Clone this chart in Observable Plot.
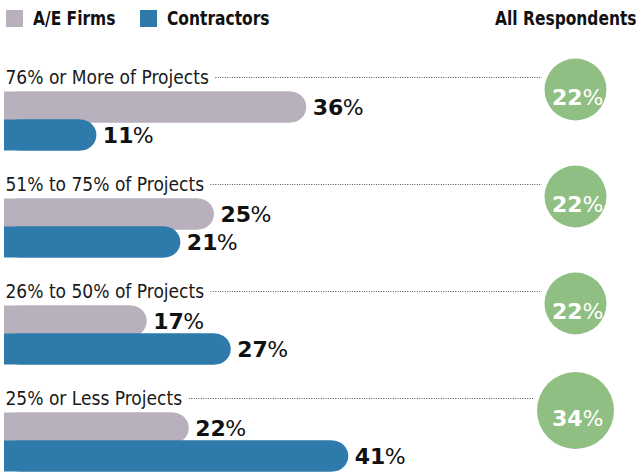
<!DOCTYPE html>
<html><head><meta charset="utf-8">
<script src="https://cdn.jsdelivr.net/npm/d3@7"></script>
<script src="https://cdn.jsdelivr.net/npm/@observablehq/plot@0.6"></script>
<style>
body{margin:0;background:#fff;width:642px;height:472px;overflow:hidden;font-family:"DejaVu Sans Condensed",sans-serif;}
#legend{position:relative;height:40px;}
.sw{position:absolute;top:10px;width:17px;height:17px;}
.lt{position:absolute;top:6px;font-weight:bold;font-size:20px;line-height:24px;color:#111;white-space:nowrap;transform:scaleX(0.86);transform-origin:left center;}
.lt.right{transform-origin:right center;}
g[aria-label="category-label"] text{letter-spacing:0.8px;}
</style></head><body>
<div id="legend"></div>
<div id="chart"></div>
<script>
const categories = ["76% or More of Projects","51% to 75% of Projects","26% to 50% of Projects","25% or Less Projects"];
const seriesNames = ["A/E Firms","Contractors"];
const aeValues = [36,25,17,22];
const contractorValues = [11,21,27,41];
const allRespondents = [22,22,22,34];
const headerLabel = "All Respondents";
const colors = ["#b8b0bd","#2d7aab"];
const circleColor = "#8fbf83";

const LABEL = "label";
const bars = categories.flatMap((c,i)=>[
  {category:c, series:seriesNames[0], value:aeValues[i]},
  {category:c, series:seriesNames[1], value:contractorValues[i]}
]);
const rows = categories.map((c,i)=>({category:c, all:allRespondents[i]}));

// legend
const legend = document.getElementById("legend");
const lpos = [[6,33],[140,167]];
seriesNames.forEach((s,i)=>{
  const sw=document.createElement("div"); sw.className="sw"; sw.style.left=lpos[i][0]+"px"; sw.style.background=colors[i]; legend.appendChild(sw);
  const t=document.createElement("div"); t.className="lt"; t.style.left=lpos[i][1]+"px"; t.textContent=s; legend.appendChild(t);
});
const h=document.createElement("div"); h.className="lt right"; h.style.right="5px"; h.textContent=headerLabel; legend.appendChild(h);

const numFont = "DejaVu Sans";
const barMarks = seriesNames.flatMap(s => {
  const d = bars.filter(b => b.series === s);
  return [
    Plot.barX(d, {fy: "category", y: "series", x1: () => 0, x2: "value", fill: "series", rx: 16, insetTop: -1.5, insetBottom: -1.5}),
    Plot.barX(d, {fy: "category", y: "series", x1: () => 0, x2: "value", fill: "series", insetRight: 16, insetTop: -1.5, insetBottom: -1.5})
  ];
});
const chart = Plot.plot({
  width: 642, height: 432,
  marginTop: 22, marginBottom: 0, marginLeft: 4, marginRight: 67,
  x: {domain: [0, 68], axis: null},
  y: {domain: [LABEL, ...seriesNames], axis: null, padding: 0},
  fy: {domain: categories, axis: null, paddingInner: 0.2, paddingOuter: 0},
  r: {type: "sqrt", domain: [0, 34], range: [0, 38.5]},
  color: {domain: seriesNames, range: colors},
  style: {fontFamily: '"DejaVu Sans Condensed",sans-serif', background: "transparent", overflow: "visible"},
  marks: [
    Plot.ruleY(rows, {fy: "category", y: () => LABEL, dy: -2, stroke: "#555", strokeDasharray: "1,1.4", strokeWidth: 1}),
    Plot.text(rows, {fy: "category", y: () => LABEL, x: () => 0, dy: -2, text: "category", textAnchor: "start", dx: 1, fontSize: 19, fill: "#1a1a1a", stroke: "white", strokeWidth: 14, paintOrder: "stroke", ariaLabel: "category-label"}),
    ...barMarks,
    Plot.text(bars, {fy: "category", y: "series", x: "value", text: d => String(d.value), textAnchor: "start", dx: 6, fontSize: 22, fontWeight: "bold", fontFamily: numFont, fill: "#111"}),
    Plot.text(bars, {fy: "category", y: "series", x: "value", text: () => "%", textAnchor: "start", dx: 36, fontSize: 22, fontFamily: numFont, fill: "#111"}),
    Plot.dot(rows, {fy: "category", r: "all", frameAnchor: "top-right", dy: 25, fill: "white", stroke: "white", strokeWidth: 10}),
    Plot.dot(rows, {fy: "category", r: "all", frameAnchor: "top-right", dy: 25, fill: circleColor}),
    Plot.text(rows, {fy: "category", frameAnchor: "top-right", dy: 25, dx: 7, text: d => String(d.all), textAnchor: "end", fontSize: 22, fontWeight: "bold", fontFamily: numFont, fill: "white"}),
    Plot.text(rows, {fy: "category", frameAnchor: "top-right", dy: 25, dx: 7, text: () => "%", textAnchor: "start", fontSize: 22, fontFamily: numFont, fill: "white"})
  ]
});
document.getElementById("chart").appendChild(chart);
</script>
</body></html>
